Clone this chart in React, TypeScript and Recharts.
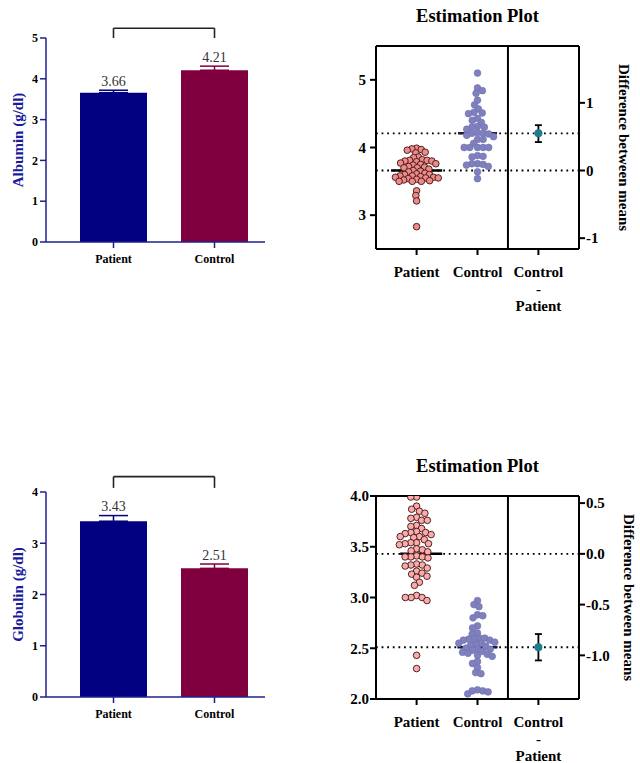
import { BarChart, Bar, Cell, XAxis, YAxis, ErrorBar, LabelList, ReferenceLine, ComposedChart, Scatter } from 'recharts'

const SERIF = "'Liberation Serif', 'Times New Roman', Times, serif"
const AXIS_BLUE = '#1f1f8f'
const LABEL_BLUE = '#1a1a9c'
const BAR_COLORS = ['#000080', '#80003f']

// bar charts: mean and upper SEM
const GROUPS = ['Patient', 'Control']
const ALBUMIN_MEAN = [3.66, 4.21]
const ALBUMIN_SEM = [0.06, 0.1]
const GLOBULIN_MEAN = [3.43, 2.51]
const GLOBULIN_SEM = [0.11, 0.085]

// estimation plots: individual values
const ALB_PATIENT = [
  3.99, 3.98, 3.97, 3.96, 3.93, 3.92, 3.86, 3.85, 3.82, 3.81, 3.81, 3.8, 3.8, 3.79, 3.77, 3.76,
  3.75, 3.74, 3.72, 3.71, 3.7, 3.7, 3.68, 3.66, 3.65, 3.64, 3.62, 3.61, 3.6, 3.6, 3.58, 3.58,
  3.57, 3.56, 3.56, 3.55, 3.55, 3.54, 3.53, 3.52, 3.51, 3.5, 3.5, 3.5, 3.36, 3.29, 3.21, 2.83,
]
const ALB_CONTROL = [
  5.1, 4.88, 4.84, 4.8, 4.7, 4.63, 4.57, 4.52, 4.51, 4.5, 4.43, 4.4, 4.37, 4.31, 4.3, 4.3, 4.27,
  4.22, 4.21, 4.21, 4.2, 4.18, 4.16, 4.12, 4.12, 4.06, 4.0, 4.0, 4.0, 4.0, 4.0, 3.88, 3.87, 3.86,
  3.76, 3.76, 3.75, 3.74, 3.72, 3.64, 3.54,
]
const GLOB_PATIENT = [
  3.99, 3.99, 3.9, 3.87, 3.85, 3.83, 3.79, 3.78, 3.76, 3.76, 3.71, 3.7, 3.68, 3.65, 3.64, 3.64,
  3.63, 3.62, 3.6, 3.6, 3.59, 3.57, 3.54, 3.54, 3.53, 3.53, 3.52, 3.48, 3.47, 3.46, 3.45, 3.41,
  3.4, 3.4, 3.4, 3.39, 3.33, 3.32, 3.32, 3.31, 3.29, 3.26, 3.24, 3.23, 3.21, 3.2, 3.15, 3.12,
  3.02, 3.0, 3.0, 3.0, 2.97, 2.43, 2.3,
]
const GLOB_CONTROL = [
  2.97, 2.93, 2.91, 2.83, 2.82, 2.8, 2.72, 2.7, 2.65, 2.64, 2.6, 2.6, 2.59, 2.59, 2.58, 2.58,
  2.56, 2.55, 2.55, 2.54, 2.53, 2.52, 2.5, 2.49, 2.49, 2.48, 2.47, 2.46, 2.45, 2.44, 2.43, 2.42,
  2.37, 2.35, 2.31, 2.26, 2.25, 2.09, 2.08, 2.08, 2.07, 2.05,
]

// 95% CI of Control - Patient
const ALB_DIFF_CI = [0.42, 0.67]
const GLOB_DIFF_CI = [-1.05, -0.79]

const EST_TICK_LINES = [['Patient'], ['Control'], ['Control', '-', 'Patient']]

function RotLabel({ viewBox, dx, angle, text, color }: any) {
  const cx = viewBox.x + dx
  const cy = viewBox.y + viewBox.height / 2
  return (
    <text
      x={cx}
      y={cy}
      transform={`rotate(${angle} ${cx} ${cy})`}
      textAnchor="middle"
      dominantBaseline="central"
      fontFamily={SERIF}
      fontWeight="bold"
      fontSize={15}
      fill={color}
    >
      {text}
    </text>
  )
}

type BarProps = {
  label: string
  means: number[]
  sems: number[]
  ticks: number[]
  top: number
  marginTop: number
  axisHeight: number
  bracket: [number, number]
}

function MeanBars({ label, means, sems, ticks, top, marginTop, axisHeight, bracket }: BarProps) {
  const rows = GROUPS.map((name, i) => ({
    name,
    mean: means[i],
    pErr: i === 0 ? [0, sems[i]] : undefined,
    cErr: i === 1 ? [0, sems[i]] : undefined,
  }))

  const valueLabel = (p: any) => {
    const vb = p.viewBox ?? p
    const v = Number(p.value)
    const h = Math.abs(vb.height)
    if (!h) return null
    const capY = vb.y - (sems[p.index] * h) / v
    return (
      <text x={vb.x + vb.width / 2} y={capY - 4.5} textAnchor="middle" fontFamily={SERIF} fontSize={14} fill="#333">
        {v.toFixed(2)}
      </text>
    )
  }

  const bracketLine = { stroke: '#222', strokeWidth: 1.6, ifOverflow: 'visible' as const }
  const tickStyle = { fontFamily: SERIF, fontWeight: 'bold', fontSize: 12, fill: '#000' }

  return (
    <div style={{ position: 'absolute', left: 0, top }}>
      <BarChart width={270} height={280} data={rows} margin={{ top: marginTop, right: 5, bottom: 0, left: 0 }}>
        <XAxis
          dataKey="name"
          padding={{ left: 17, right: 0 }}
          height={axisHeight}
          tickMargin={6}
          axisLine={{ stroke: AXIS_BLUE, strokeWidth: 1.5 }}
          tickLine={{ stroke: AXIS_BLUE, strokeWidth: 1.5 }}
          tick={tickStyle}
        />
        <YAxis
          width={46}
          domain={[ticks[0], ticks[ticks.length - 1]]}
          ticks={ticks}
          axisLine={{ stroke: AXIS_BLUE, strokeWidth: 1.5 }}
          tickLine={{ stroke: AXIS_BLUE, strokeWidth: 1.5 }}
          tick={tickStyle}
          label={{ content: (p: any) => <RotLabel viewBox={p.viewBox} dx={18} angle={-90} text={label} color={LABEL_BLUE} /> }}
        />
        <Bar dataKey="mean" barSize={67} isAnimationActive={false}>
          {rows.map((r, i) => (
            <Cell key={r.name} fill={BAR_COLORS[i]} />
          ))}
          <ErrorBar dataKey="pErr" width={14.5} stroke={BAR_COLORS[0]} strokeWidth={1.5} isAnimationActive={false} />
          <ErrorBar dataKey="cErr" width={14.5} stroke={BAR_COLORS[1]} strokeWidth={1.5} isAnimationActive={false} />
          <LabelList dataKey="mean" content={valueLabel} />
        </Bar>
        <ReferenceLine segment={[{ x: 'Patient', y: bracket[0] }, { x: 'Control', y: bracket[0] }]} {...bracketLine} />
        <ReferenceLine segment={[{ x: 'Patient', y: bracket[0] }, { x: 'Patient', y: bracket[1] }]} {...bracketLine} />
        <ReferenceLine segment={[{ x: 'Control', y: bracket[0] }, { x: 'Control', y: bracket[1] }]} {...bracketLine} />
      </BarChart>
    </div>
  )
}

// simple beeswarm: horizontal pixel offsets so dots don't pile up
function swarm(values: number[], pxPerUnit: number, gap: number): number[] {
  const placed: { x: number; y: number }[] = []
  const offsets = new Array(values.length).fill(0)
  const order = values.map((_, i) => i).sort((a, b) => values[b] - values[a])
  let flip = 1
  for (const i of order) {
    const y = values[i] * pxPerUnit
    const near = placed.filter((p) => Math.abs(p.y - y) < gap)
    const cands = [0]
    near.forEach((p) => {
      const d = Math.sqrt(gap * gap - (p.y - y) ** 2)
      cands.push(p.x + d, p.x - d)
    })
    cands.sort((a, b) => Math.abs(a) - Math.abs(b) || flip * (b - a))
    const x = cands.find((c) => near.every((p) => (p.x - c) ** 2 + (p.y - y) ** 2 >= gap * gap - 0.01)) ?? 0
    flip = -flip
    placed.push({ x, y })
    offsets[i] = x
  }
  return offsets
}

function GroupTick({ x, y, payload }: any) {
  const lines = EST_TICK_LINES[payload.value - 1] ?? []
  return (
    <text x={x} y={y} textAnchor="middle" fontFamily={SERIF} fontWeight="bold" fontSize={15} fill="#000">
      {lines.map((l, i) => (
        <tspan key={i} x={x} dy={i === 0 ? 20 : 17}>
          {l}
        </tspan>
      ))}
    </text>
  )
}

type EstProps = {
  patient: number[]
  control: number[]
  means: number[]
  ci: number[]
  yDomain: [number, number]
  yTicks: number[]
  rTicks: number[]
  fmt: (v: number) => string
  top: number
  height: number
  leftTickMargin: number
  labelDx: number
  patientFill: string
  gapP: number
  gapC: number
  meanP: [number, number]
  meanC: [number, number]
}

function EstimationPlot(props: EstProps) {
  const { patient, control, means, ci, yDomain, yTicks, rTicks, fmt, top, height } = props
  const PLOT_W = 203
  const PLOT_H = 203
  const xDomain: [number, number] = [1 / 3, 11 / 3]
  const pxX = PLOT_W / (xDomain[1] - xDomain[0])
  const pxY = PLOT_H / (yDomain[1] - yDomain[0])

  const pOff = swarm(patient, pxY, props.gapP)
  const cOff = swarm(control, pxY, props.gapC)
  const patientPts = patient.map((v, i) => ({ x: 1 + pOff[i] / pxX, y: v }))
  const controlPts = control.map((v, i) => ({ x: 2 + cOff[i] / pxX, y: v }))

  const diff = means[1] - means[0]
  const diffPts = [{ x: 3, y: diff, err: [diff - ci[0], ci[1] - diff] }]
  const rDomain: [number, number] = [yDomain[0] - means[0], yDomain[1] - means[0]]

  const tickStyle = { fontFamily: SERIF, fontWeight: 'bold', fontSize: 15, fill: '#000' }
  const black = { stroke: '#000', strokeWidth: 2 }

  return (
    <div style={{ position: 'absolute', left: 340, top }}>
      <div
        style={{
          position: 'absolute',
          left: 36,
          width: PLOT_W,
          top: 5,
          textAlign: 'center',
          fontFamily: SERIF,
          fontWeight: 'bold',
          fontSize: 18.5,
          lineHeight: '22px',
        }}
      >
        Estimation Plot
      </div>
      <ComposedChart width={300} height={height} margin={{ top: 46, right: 25, bottom: 0, left: 0 }}>
        <XAxis
          type="number"
          dataKey="x"
          domain={xDomain}
          ticks={[1, 2, 3]}
          allowDataOverflow
          height={height - 46 - PLOT_H}
          axisLine={black}
          tickLine={black}
          tick={<GroupTick />}
        />
        <YAxis
          yAxisId="L"
          type="number"
          dataKey="y"
          width={36}
          domain={yDomain}
          ticks={yTicks}
          allowDataOverflow
          tickFormatter={fmt}
          tickMargin={props.leftTickMargin}
          axisLine={black}
          tickLine={black}
          tick={tickStyle}
        />
        <YAxis
          yAxisId="R"
          orientation="right"
          type="number"
          dataKey="y"
          width={36}
          domain={rDomain}
          ticks={rTicks}
          allowDataOverflow
          tickFormatter={fmt}
          tickMargin={1}
          axisLine={black}
          tickLine={black}
          tick={tickStyle}
          label={{
            content: (p: any) => (
              <RotLabel viewBox={p.viewBox} dx={props.labelDx} angle={90} text="Difference between means" color="#000" />
            ),
          }}
        />
        <ReferenceLine yAxisId="L" y={means[0]} stroke="#000" strokeWidth={1.8} strokeDasharray="1.8 3.8" />
        <ReferenceLine yAxisId="L" y={means[1]} stroke="#000" strokeWidth={1.8} strokeDasharray="1.8 3.8" />
        <Scatter
          yAxisId="L"
          data={patientPts}
          isAnimationActive={false}
          shape={(p: any) => <circle cx={p.cx} cy={p.cy} r={3.3} fill={props.patientFill} stroke="#3a1414" strokeWidth={0.9} />}
        />
        <Scatter
          yAxisId="L"
          data={controlPts}
          isAnimationActive={false}
          shape={(p: any) => <circle cx={p.cx} cy={p.cy} r={3.4} fill="#7f80bd" stroke="#7172b2" strokeWidth={0.6} />}
        />
        <ReferenceLine
          yAxisId="L"
          segment={[{ x: 1 + props.meanP[0], y: means[0] }, { x: 1 + props.meanP[1], y: means[0] }]}
          stroke="#000"
          strokeWidth={2.5}
        />
        <ReferenceLine
          yAxisId="L"
          segment={[{ x: 2 + props.meanC[0], y: means[1] }, { x: 2 + props.meanC[1], y: means[1] }]}
          stroke="#1a1a3a"
          strokeWidth={2.5}
        />
        <ReferenceLine yAxisId="L" x={2.5} {...black} />
        <ReferenceLine yAxisId="L" y={yDomain[1]} {...black} ifOverflow="visible" />
        <Scatter
          yAxisId="R"
          data={diffPts}
          isAnimationActive={false}
          shape={(p: any) => <circle cx={p.cx} cy={p.cy} r={4} fill="#1f7b8d" />}
        >
          <ErrorBar dataKey="err" direction="y" width={3.5} stroke="#000" strokeWidth={1.8} isAnimationActive={false} />
        </Scatter>
      </ComposedChart>
    </div>
  )
}

export default function App() {
  return (
    <div
      style={{
        position: 'absolute',
        left: 0,
        top: 0,
        width: 640,
        height: 763,
        overflow: 'hidden',
        background: '#fff',
        fontFamily: SERIF,
      }}
    >
      <MeanBars
        label="Albumin (g/dl)"
        means={ALBUMIN_MEAN}
        sems={ALBUMIN_SEM}
        ticks={[0, 1, 2, 3, 4, 5]}
        top={0}
        marginTop={38}
        axisHeight={38}
        bracket={[5.24, 5.0]}
      />
      <MeanBars
        label="Globulin (g/dl)"
        means={GLOBULIN_MEAN}
        sems={GLOBULIN_SEM}
        ticks={[0, 1, 2, 3, 4]}
        top={450}
        marginTop={42}
        axisHeight={33}
        bracket={[4.3, 4.08]}
      />
      <EstimationPlot
        patient={ALB_PATIENT}
        control={ALB_CONTROL}
        means={ALBUMIN_MEAN}
        ci={ALB_DIFF_CI}
        yDomain={[2.5, 5.5]}
        yTicks={[3, 4, 5]}
        rTicks={[-1, 0, 1]}
        fmt={(v) => String(v)}
        top={0}
        height={330}
        leftTickMargin={4}
        labelDx={44.5}
        patientFill="#f08a8a"
        gapP={4.8}
        gapC={5.6}
        meanP={[-0.42, 0.42]}
        meanC={[-0.32, 0.32]}
      />
      <EstimationPlot
        patient={GLOB_PATIENT}
        control={GLOB_CONTROL}
        means={GLOBULIN_MEAN}
        ci={GLOB_DIFF_CI}
        yDomain={[2, 4]}
        yTicks={[2, 2.5, 3, 3.5, 4]}
        rTicks={[-1, -0.5, 0, 0.5]}
        fmt={(v) => v.toFixed(1)}
        top={450}
        height={313}
        leftTickMargin={1}
        labelDx={50}
        patientFill="#fcaaaa"
        gapP={5.8}
        gapC={5.4}
        meanP={[-0.27, 0.42]}
        meanC={[-0.33, 0.33]}
      />
    </div>
  )
}
